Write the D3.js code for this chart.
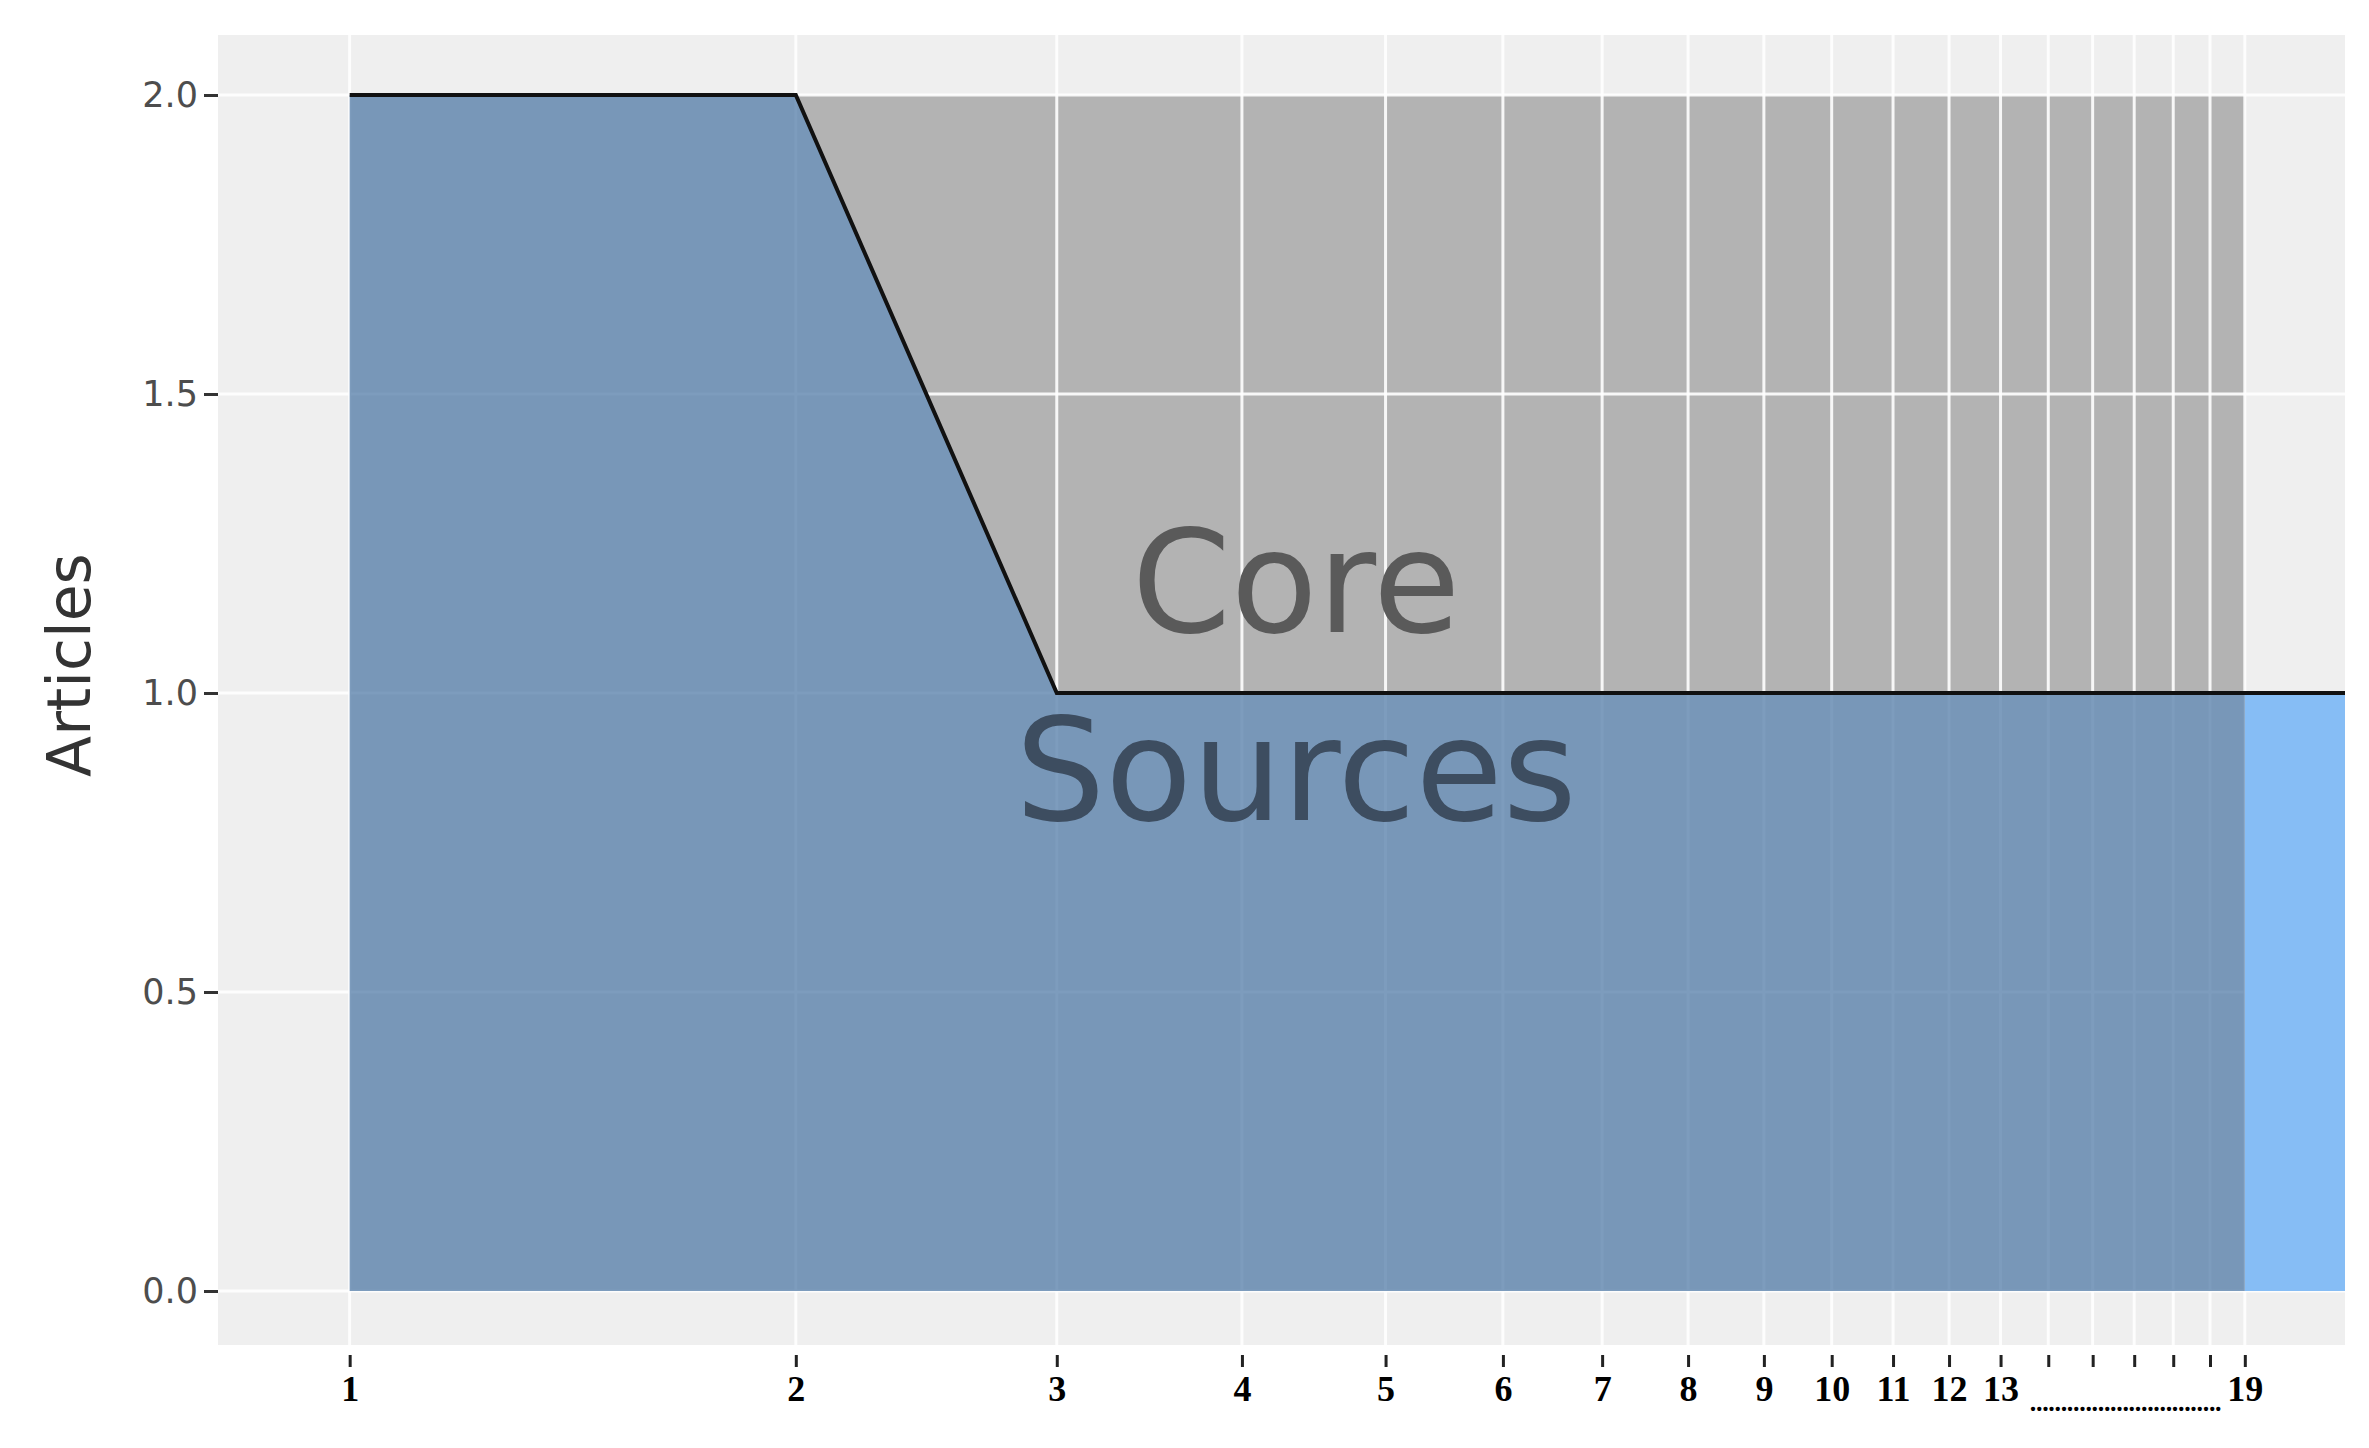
<!DOCTYPE html>
<html><head><meta charset="utf-8">
<script src="https://cdn.jsdelivr.net/npm/d3@7"></script>
<style>body{margin:0;background:#fff}</style>
</head><body><div id="viz"></div>
<script>
// data
var sources = [1,2,3,4,5,6,7,8,9,10,11,12,13,14,15,16,17,18,19];
var articles = [2,2,1,1,1,1,1,1,1,1,1,1,1,1,1,1,1,1,1];
var tailX = [19, 22.2];
var tailY = [1, 1];
var yTicks = [0, 0.5, 1, 1.5, 2];
var xLabels = ["1","2","3","4","5","6","7","8","9","10","11","12","13","","","","","","19"];
var coreMax = 2;

var W = 2369, H = 1448;
var panel = {left: 218, right: 2345, top: 35, bottom: 1345};

var svg = d3.select("#viz").append("svg").attr("width", W).attr("height", H);

var x = d3.scaleLog().domain([0.815, 22.2]).range([panel.left, panel.right]);
var y = d3.scaleLinear().domain([0, 2]).range([1291, 95]);

// panel background
svg.append("rect").attr("x", panel.left).attr("y", panel.top)
  .attr("width", panel.right - panel.left).attr("height", panel.bottom - panel.top)
  .style("fill", "#efefef");

// core gray block
svg.append("rect").attr("x", x(1)).attr("y", y(coreMax))
  .attr("width", x(19) - x(1)).attr("height", y(0) - y(coreMax))
  .style("fill", "#b3b3b3");

// grid
var grid = svg.append("g");
grid.selectAll("line.gy").data(yTicks).enter().append("line")
  .attr("x1", panel.left).attr("x2", panel.right)
  .attr("y1", function(d){ return y(d); }).attr("y2", function(d){ return y(d); })
  .style("stroke", "#fff").style("stroke-width", 3).style("opacity", 0.9);
grid.selectAll("line.gx").data(sources).enter().append("line")
  .attr("y1", panel.top).attr("y2", panel.bottom)
  .attr("x1", function(d){ return x(d); }).attr("x2", function(d){ return x(d); })
  .style("stroke", "#fff").style("stroke-width", 3).style("opacity", 0.9);

// tail area beyond 19
var tail = tailX.map(function(d, i){ return {x: d, y: tailY[i]}; });
var pts = sources.map(function(d, i){ return {x: d, y: articles[i]}; });
var area = d3.area().x(function(d){ return x(d.x); }).y0(y(0)).y1(function(d){ return y(d.y); });
svg.append("path").datum(tail).attr("d", area).style("fill", "#86bdf5");
svg.append("path").datum(pts).attr("d", area).style("fill", "#7395b8").style("opacity", 0.93);

// line
var line = d3.line().x(function(d){ return x(d.x); }).y(function(d){ return y(d.y); });
svg.append("path").datum(pts.concat(tail.slice(1))).attr("d", line)
  .style("fill", "none").style("stroke", "#111").style("stroke-width", 4);

// labels in the plot
svg.append("text").attr("x", 1296).attr("y", 632).attr("text-anchor", "middle")
  .style("font-family", "DejaVu Sans").style("font-size", "142px").style("fill", "#5a5a5a").text("Core");
svg.append("text").attr("x", 1296).attr("y", 820).attr("text-anchor", "middle")
  .style("font-family", "DejaVu Sans").style("font-size", "142px").style("fill", "#3d4d60").text("Sources");

// y axis
var yAxis = svg.append("g").attr("transform", "translate(" + panel.left + ",0)")
  .call(d3.axisLeft(y).tickValues(yTicks).tickFormat(d3.format(".1f")).tickSize(14).tickPadding(6));
yAxis.select(".domain").remove();
yAxis.selectAll("line").style("stroke", "#333").style("stroke-width", 3);
yAxis.selectAll("text").style("font-family", "DejaVu Sans").style("font-size", "35px").style("fill", "#4d4d4d");

svg.append("text").attr("transform", "translate(90," + ((panel.top + panel.bottom) / 2 - 25) + ") rotate(-90)")
  .attr("text-anchor", "middle").style("font-family", "DejaVu Sans").style("font-size", "60px")
  .style("fill", "#333").text("Articles");

// x axis
var xAxis = svg.append("g").attr("transform", "translate(0," + (panel.bottom + 10) + ")")
  .call(d3.axisBottom(x).tickValues(sources).tickFormat(function(d, i){ return xLabels[i]; }).tickSize(12).tickPadding(8));
xAxis.select(".domain").remove();
xAxis.selectAll("line").style("stroke", "#222").style("stroke-width", 3);
xAxis.selectAll("text").style("font-family", "Liberation Serif").style("font-size", "36px").style("fill", "#000").style("font-weight", "bold");
svg.append("text").attr("x", x(13) + 28).attr("y", panel.bottom + 66)
  .attr("textLength", x(19) - x(13) - 50).attr("lengthAdjust", "spacing")
  .style("font-family", "Liberation Serif").style("font-size", "36px").text("...............................");
</script></body></html>
